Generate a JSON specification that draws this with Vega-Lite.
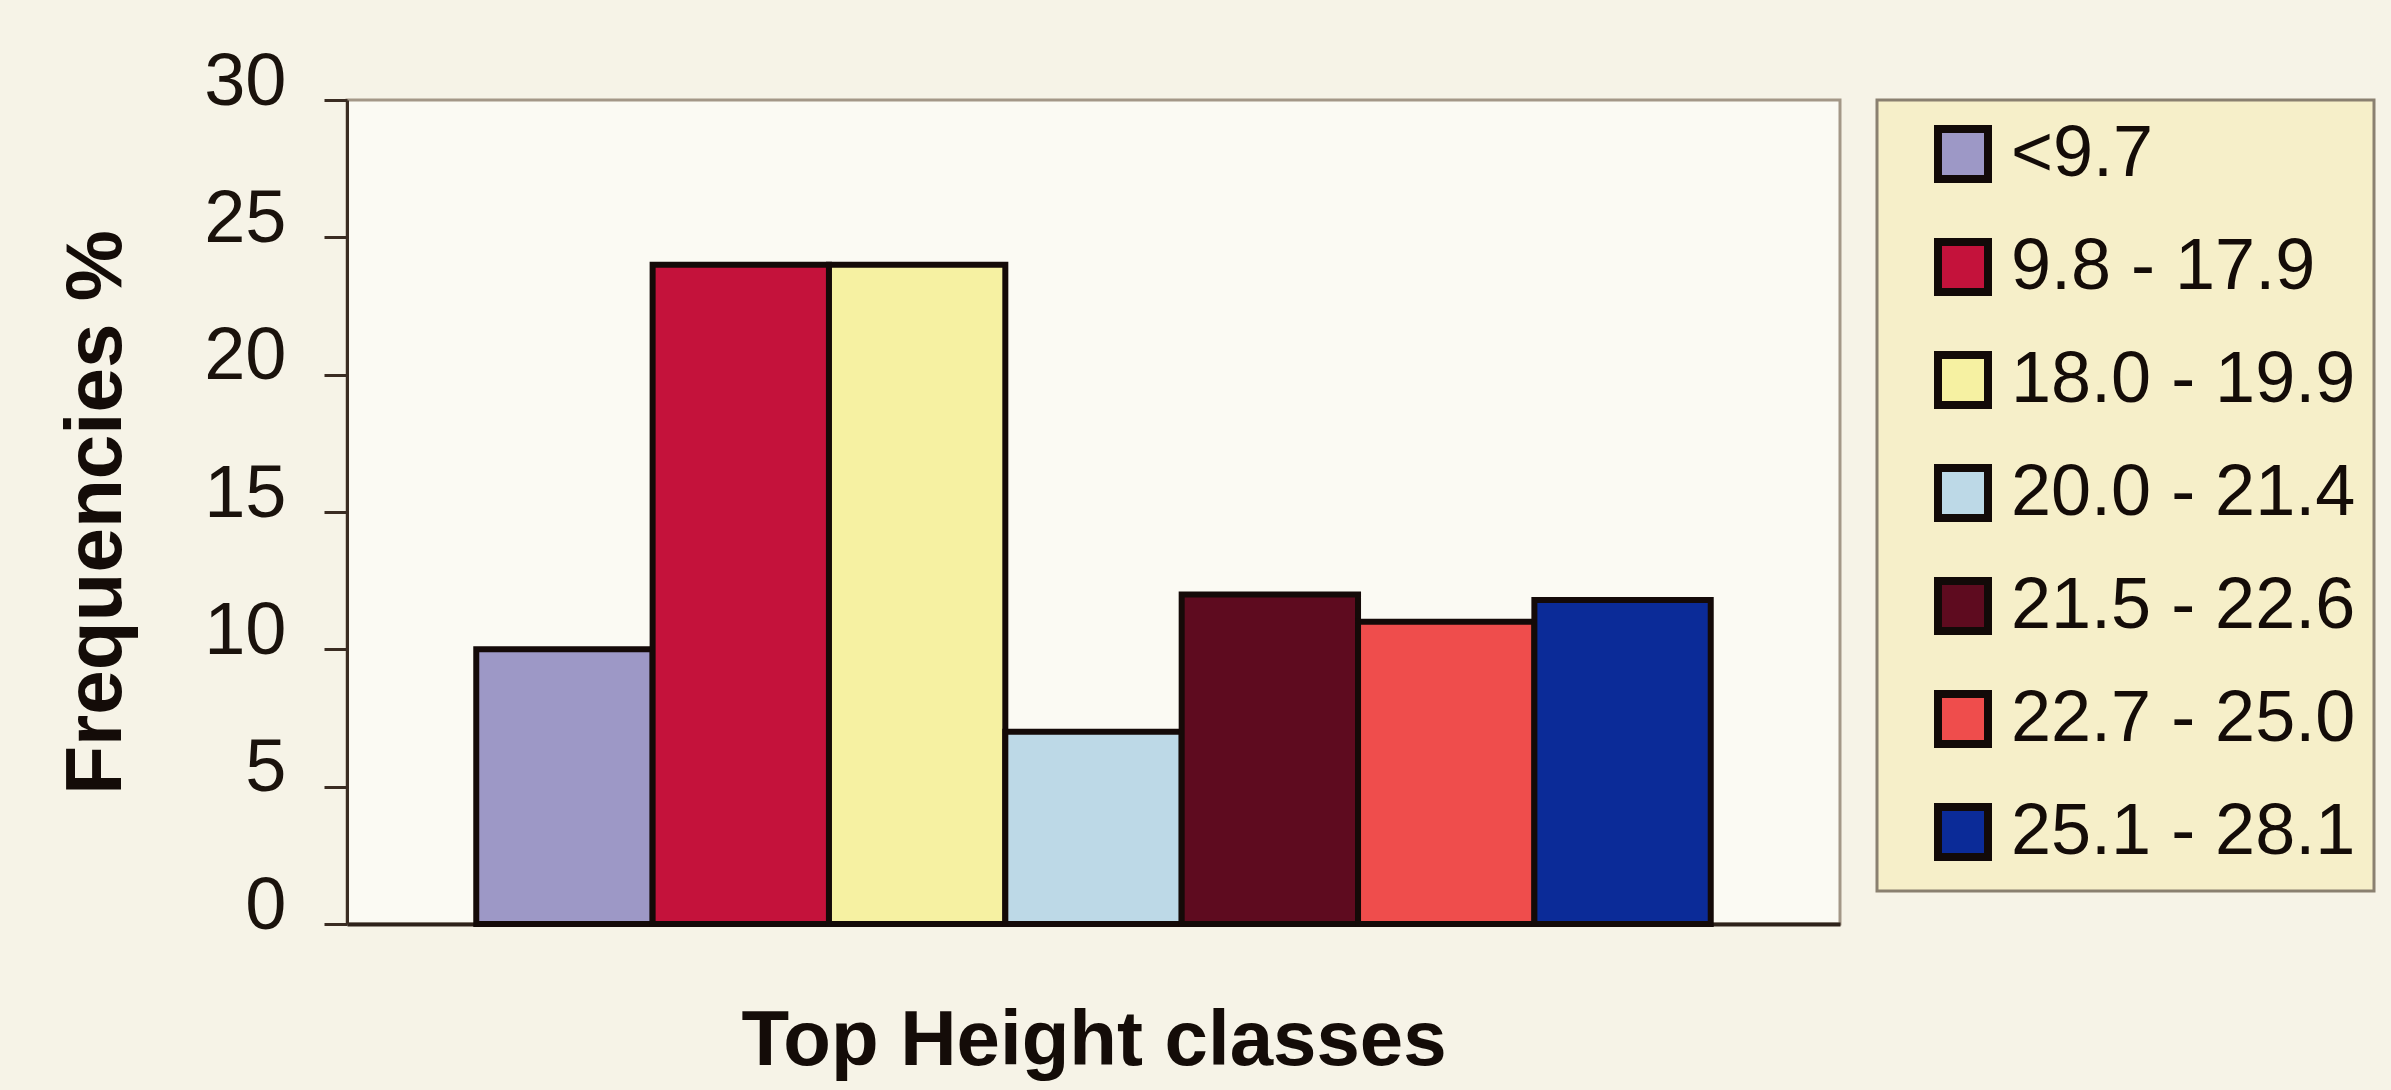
{
  "$schema": "https://vega.github.io/schema/vega-lite/v6.json",
  "width": 1493,
  "height": 824,
  "autosize": {"type": "none"},
  "padding": {"left": 347, "top": 100, "right": 551, "bottom": 166},
  "background": "#f6f3e7",
  "data": {
    "values": [
      {"class": "<9.7", "freq": 10},
      {"class": "9.8 - 17.9", "freq": 24},
      {"class": "18.0 - 19.9", "freq": 24},
      {"class": "20.0 - 21.4", "freq": 7},
      {"class": "21.5 - 22.6", "freq": 12},
      {"class": "22.7 - 25.0", "freq": 11},
      {"class": "25.1 - 28.1", "freq": 11.8}
    ]
  },
  "mark": {"type": "bar", "stroke": "#140a08", "strokeWidth": 6, "strokeJoin": "miter"},
  "encoding": {
    "x": {
      "field": "class",
      "type": "nominal",
      "sort": null,
      "scale": {"paddingInner": 0, "paddingOuter": 0.733},
      "axis": {
        "title": "Top Height classes",
        "labels": false,
        "ticks": false,
        "titlePadding": 78,
        "titleFont": "Liberation Sans",
        "titleFontSize": 78,
        "titleFontWeight": "bold",
        "titleColor": "#140c08",
        "domainColor": "#2e221a",
        "domainWidth": 4
      }
    },
    "y": {
      "field": "freq",
      "type": "quantitative",
      "scale": {"domain": [0, 30], "nice": false},
      "axis": {
        "values": [0, 5, 10, 15, 20, 25, 30],
        "title": "Frequencies %",
        "grid": false,
        "tickSize": 23,
        "tickWidth": 3,
        "tickColor": "#3a2c22",
        "domainColor": "#3a2c22",
        "domainWidth": 3,
        "labelFont": "Liberation Sans",
        "labelFontSize": 74,
        "labelColor": "#1a120c",
        "labelPadding": 38,
        "labelOffset": -18,
        "titleFont": "Liberation Sans",
        "titleFontSize": 80,
        "titleFontWeight": "bold",
        "titleColor": "#140c08",
        "titlePadding": 66
      }
    },
    "color": {
      "field": "class",
      "type": "nominal",
      "sort": null,
      "scale": {
        "range": ["#9d98c6", "#c4123b", "#f6f1a2", "#bdd9e7", "#5e0b1f", "#ef4d4c", "#0b2b98"]
      },
      "legend": {
        "title": null,
        "orient": "right",
        "offset": 37,
        "padding": 18,
        "fillColor": "#f6efc9",
        "strokeColor": "#8a8070",
        "symbolType": "square",
        "symbolSize": 2500,
        "symbolStrokeWidth": 8,
        "symbolStrokeColor": "#120a08",
        "symbolOpacity": 1,
        "symbolOffset": 32,
        "labelFont": "Liberation Sans",
        "labelFontSize": 72,
        "labelColor": "#140c08",
        "labelOffset": 12,
        "labelLimit": 600,
        "rowPadding": 31,
        "encode": {"legend": {"update": {"strokeWidth": {"value": 3}}}}
      }
    }
  },
  "config": {
    "view": {"fill": "#fbfaf3", "stroke": "#a39787", "strokeWidth": 3}
  }
}
